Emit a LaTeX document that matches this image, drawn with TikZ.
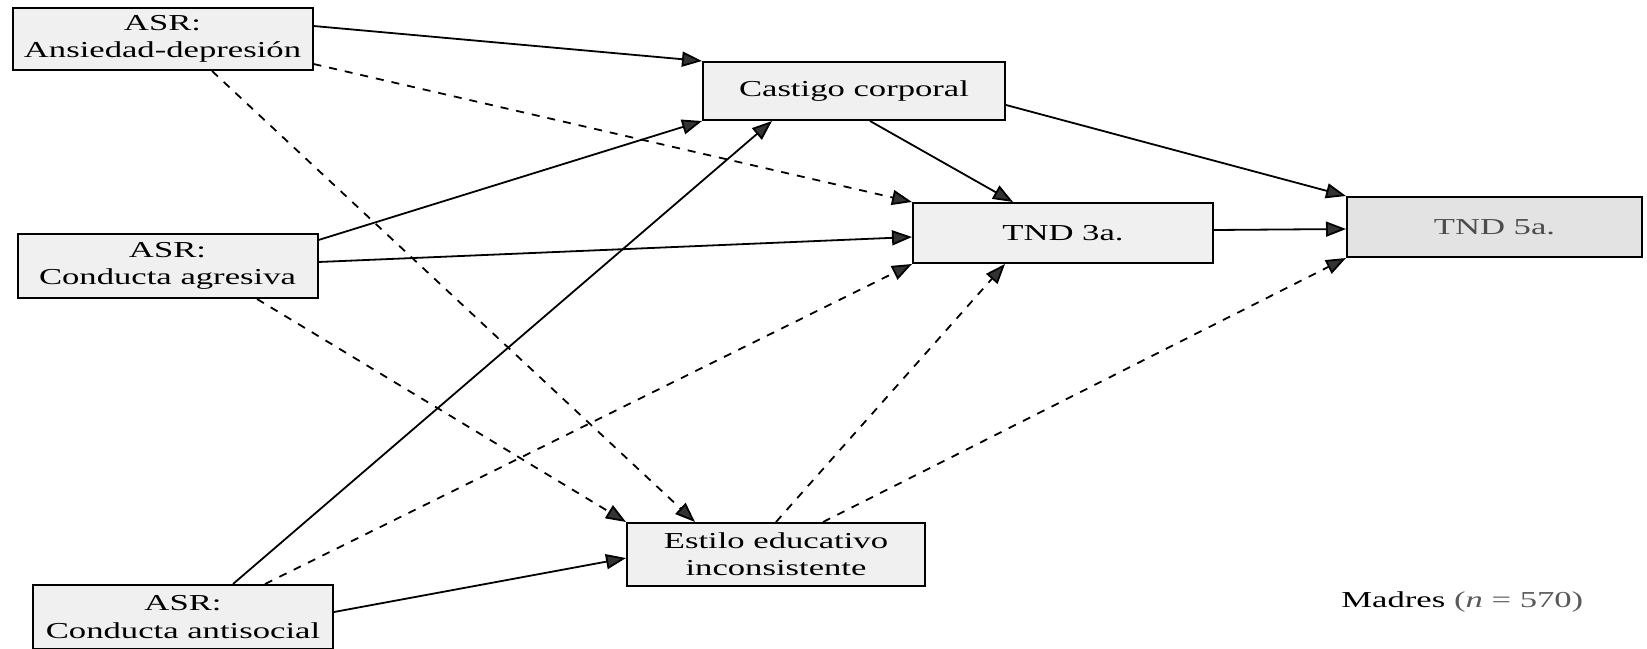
\documentclass[tikz,border=0pt]{standalone}
\usepackage{fontspec}
\setmainfont{Liberation Serif}[FakeStretch=1.52]
\usetikzlibrary{arrows.meta}

\begin{document}
\begin{tikzpicture}[
        x=0.5pt, y=-0.5pt,
        var/.style={rectangle, draw, line width=1pt, fill=gray!12, inner sep=0pt,
            minimum width=150pt, minimum height=30pt, align=center,
            font=\fontsize{11.4}{13.6}\selectfont},
        path/.style={-{Triangle[length=10pt, width=7.5pt, fill=black!80]}, line width=0.9pt},
        nopath/.style={path, dash pattern=on 4pt off 4pt}
    ]
        \useasboundingbox (0,0) rectangle (1647,648);

        % ASR scales
        \node[var, minimum height=31pt] (ansdep) at (162.5,39) {ASR:\\Ansiedad-depresión};
        \node[var, minimum height=32pt] (agres) at (167.5,266) {ASR:\\Conducta agresiva};
        \node[var, minimum height=32pt] (antis) at (183,617) {ASR:\\Conducta antisocial};

        % Parenting
        \node[var, minimum width=151pt, minimum height=29pt] (castigo) at (854,91) {Castigo corporal};
        \node[var, minimum width=149pt, minimum height=31.5pt] (estilo) at (776,554.5) {Estilo educativo\\inconsistente};

        % Outcomes
        \node[var] (tnd3) at (1063,233) {TND 3a.};
        \node[var, minimum width=147.5pt, fill=gray!22, text=black!70] (tnd5) at (1494.5,227) {TND 5a.};

        % Sample
        \node[anchor=base west, inner sep=0pt, font=\fontsize{11.4}{13.6}\selectfont] (madres) at (1341,607) {Madres {\color{black!65}(\textit{n} = 570)}};

        % Significant paths
        \draw[path] ([yshift=6.5pt]ansdep.east) -- (castigo.north west);
        \draw[path] ([yshift=13pt]agres.east) -- (castigo.south west);
        \draw[path] ([yshift=2pt]agres.east) -- ([yshift=-2pt]tnd3.west);
        \draw[path] ([xshift=25pt]antis.north) -- ([xshift=-41pt]castigo.south);
        \draw[path] ([yshift=2.5pt]antis.east) -- ([yshift=-1.75pt]estilo.west);
        \draw[path] ([xshift=8pt]castigo.south) -- ([xshift=-25pt]tnd3.north);
        \draw[path] ([yshift=-7pt]castigo.east) -- (tnd5.north west);
        \draw[path] ([yshift=1.5pt]tnd3.east) -- ([yshift=-1pt]tnd5.west);

        % Non-significant paths
        \draw[nopath] ([yshift=-12.5pt]ansdep.east) -- (tnd3.north west);
        \draw[nopath] ([xshift=24.75pt]ansdep.south) -- ([xshift=-40.5pt]estilo.north);
        \draw[nopath] ([xshift=44.75pt]agres.south) -- (estilo.north west);
        \draw[nopath] ([xshift=41pt]antis.north) -- (tnd3.south west);
        \draw[nopath] (estilo.north) -- ([xshift=-29pt]tnd3.south);
        \draw[nopath] ([xshift=23.5pt]estilo.north) -- (tnd5.south west);
    \end{tikzpicture}
\end{document}
